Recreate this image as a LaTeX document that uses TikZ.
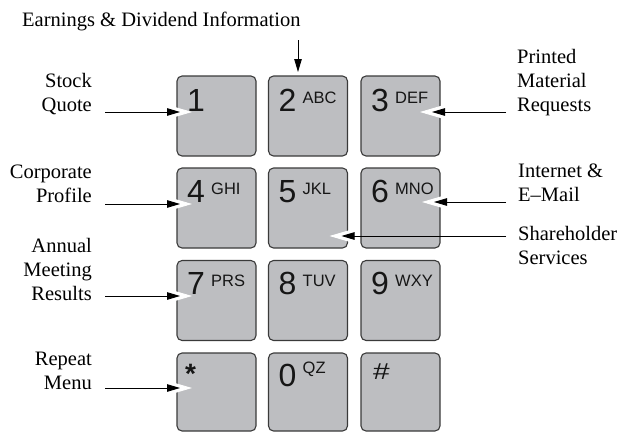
\documentclass[tikz,border=0pt]{standalone}
\usepackage{fontspec}
\setmainfont{Liberation Serif}
\newfontfamily\keyfont{Liberation Sans}
\usetikzlibrary{arrows.meta,calc}
\definecolor{capfill}{HTML}{BDBEC1}
\definecolor{capline}{HTML}{3A3A3A}
\definecolor{capink}{HTML}{161616}

% arrow with a white wedge in front of its head
\newcommand\keyarrow[2]{%
  \draw[halo] (#1) -- (#2);
  \draw[pointer, shorten >=12pt] (#1) -- (#2);}

\begin{document}
\begin{tikzpicture}[x=1pt, y=-1pt,
  keycap/.style={draw=capline, line width=1.1pt, fill=capfill, rounded corners=5pt,
    minimum width=79pt, minimum height=80pt, inner sep=0pt, outer sep=0pt},
  bigdigit/.style={font=\keyfont\fontsize{32}{32}\selectfont, text=capink, inner sep=0pt, anchor=base west},
  letters/.style={font=\keyfont\fontsize{16.5}{16.5}\selectfont, text=capink, inner sep=0pt, anchor=base west},
  caption/.style={font=\fontsize{20.5}{24}\selectfont, inner sep=0pt},
  halo/.style={draw=white, line width=0.9pt, -{Triangle[length=26pt,width=15pt]}},
  pointer/.style={draw=black, line width=0.9pt, -{Triangle[length=13pt,width=7.5pt]}},
]
\useasboundingbox (0,0) rectangle (629,431);

% keypad
\node[keycap] (k1) at (216.5,116) {};
\node[keycap] (k2) at (308,116) {};
\node[keycap] (k3) at (400.5,116) {};
\node[keycap] (k4) at (216.5,208) {};
\node[keycap] (k5) at (308,208) {};
\node[keycap] (k6) at (400.5,208) {};
\node[keycap] (k7) at (216.5,300.5) {};
\node[keycap] (k8) at (308,300.5) {};
\node[keycap] (k9) at (400.5,300.5) {};
\node[keycap, minimum height=78pt] (kstar) at (216.5,392) {};
\node[keycap, minimum height=78pt] (k0) at (308,392) {};
\node[keycap, minimum height=78pt] (khash) at (400.5,392) {};

% arrow end points
\coordinate (sStock) at (105,112);
\coordinate (sCorp) at (105,204);
\coordinate (sAnnual) at (105,296);
\coordinate (sRepeat) at (105,388);
\coordinate (sPrinted) at (506,112);
\coordinate (sInternet) at (506,202);
\coordinate (sShare) at (506,236);
\coordinate (sEarn) at (298,40);
\coordinate (tEarn) at (298,72);

\keyarrow{sStock}{$(k1.west |- sStock)+(15,0)$}
\keyarrow{sCorp}{$(k4.west |- sCorp)+(15,0)$}
\keyarrow{sAnnual}{$(k7.west |- sAnnual)+(15,0)$}
\keyarrow{sRepeat}{$(kstar.west |- sRepeat)+(15,0)$}
\keyarrow{sPrinted}{$(k3.east |- sPrinted)+(-20,0)$}
\keyarrow{sInternet}{$(k6.east |- sInternet)+(-18,0)$}
\keyarrow{sShare}{$(k5.east |- sShare)+(-18,0)$}
\draw[pointer] (sEarn) -- (tEarn);

% key legends
\node[bigdigit] (d1) at ($(k1.north west)+(10,35)$) {1};
\node[bigdigit] (d2) at ($(k2.north west)+(10,35)$) {2};
\node[letters] (l2) at ($(k2.north west)+(34,27)$) {ABC};
\node[bigdigit] (d3) at ($(k3.north west)+(10,35)$) {3};
\node[letters] (l3) at ($(k3.north west)+(34,27)$) {DEF};
\node[bigdigit] (d4) at ($(k4.north west)+(10,34)$) {4};
\node[letters] (l4) at ($(k4.north west)+(34,26)$) {GHI};
\node[bigdigit] (d5) at ($(k5.north west)+(10,34)$) {5};
\node[letters] (l5) at ($(k5.north west)+(34,26)$) {JKL};
\node[bigdigit] (d6) at ($(k6.north west)+(10,34)$) {6};
\node[letters] (l6) at ($(k6.north west)+(34,26)$) {MNO};
\node[bigdigit] (d7) at ($(k7.north west)+(10,34)$) {7};
\node[letters] (l7) at ($(k7.north west)+(34,26)$) {PRS};
\node[bigdigit] (d8) at ($(k8.north west)+(10,34)$) {8};
\node[letters] (l8) at ($(k8.north west)+(34,26)$) {TUV};
\node[bigdigit] (d9) at ($(k9.north west)+(10,34)$) {9};
\node[letters] (l9) at ($(k9.north west)+(34,26)$) {WXY};
\node[bigdigit, font=\keyfont\bfseries\fontsize{28}{28}\selectfont] (dstar) at ($(kstar.north west)+(8,30)$) {*};
\node[bigdigit] (d0) at ($(k0.north west)+(10,33)$) {0};
\node[letters] (l0) at ($(k0.north west)+(34,20)$) {QZ};
\node[bigdigit] (dhash) at ($(khash.north west)+(12,26)$) {\scalebox{1.3}[1]{\fontsize{23}{23}\selectfont\#}};

% menu captions (base = baseline of the last line)
\node[caption, anchor=base west] (earn) at (22,26) {Earnings \& Dividend Information};
\node[caption, align=right, anchor=base east] (stock) at (92,111) {Stock\\Quote};
\node[caption, align=right, anchor=base east] (corp) at (92,202) {Corporate\\Profile};
\node[caption, align=right, anchor=base east] (annual) at (92,300) {Annual\\Meeting\\Results};
\node[caption, align=right, anchor=base east] (repeat) at (92,389) {Repeat\\Menu};
\node[caption, align=left, anchor=base west] (printed) at (517,111) {Printed\\Material\\Requests};
\node[caption, align=left, anchor=base west] (internet) at (518,201) {Internet \&\\E–Mail};
\node[caption, align=left, anchor=base west] (share) at (518,264) {Shareholder\\Services};
\end{tikzpicture}
\end{document}
